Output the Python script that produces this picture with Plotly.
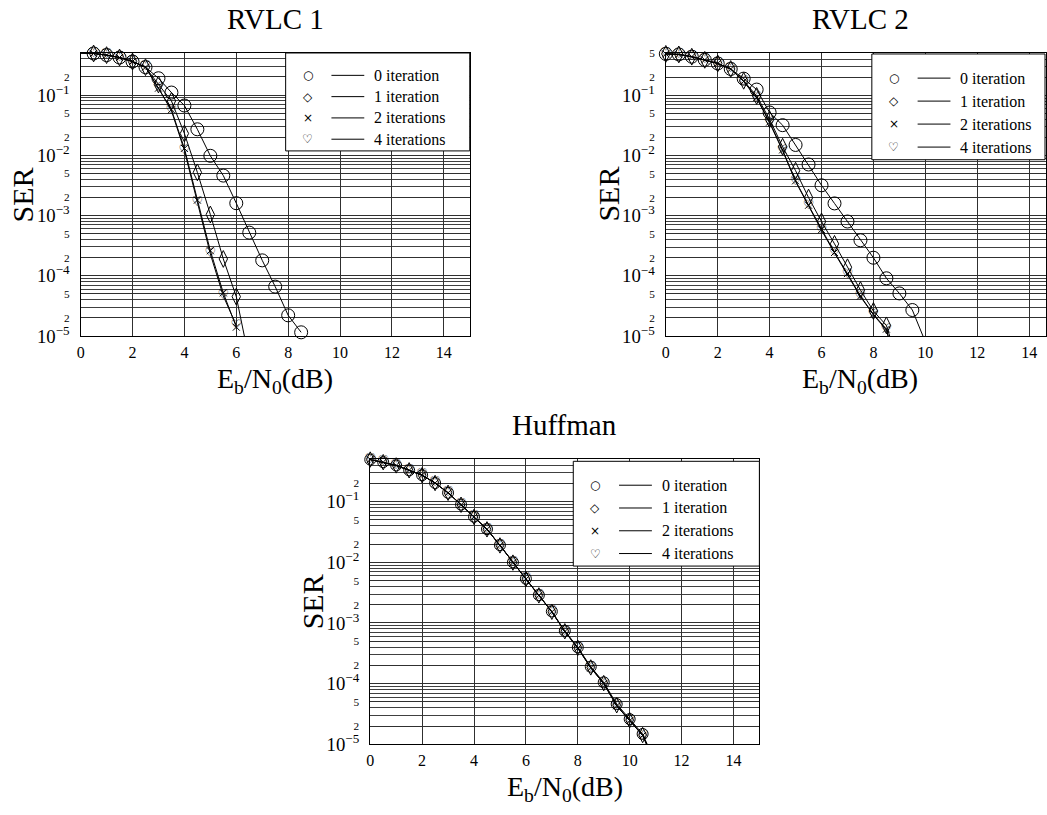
import plotly.graph_objects as go

W, H = 1047, 815
SERIF = "Liberation Serif, Times New Roman, serif"
SYM = "DejaVu Sans"

# ---------------- data ----------------
# Eb/N0 grid (dB)
snr_rv1_0 = [0.0, 0.5, 1.0, 1.5, 2.0, 2.5, 3.0, 3.5, 4.0, 4.5, 5.0, 5.5, 6.0, 6.5, 7.0, 7.5, 8.0, 8.5]
ser_rv1_0 = [0.50, 0.49, 0.46, 0.42, 0.36, 0.29, 0.19, 0.11, 0.067, 0.027, 9.8e-3, 4.6e-3,
             1.6e-3, 5.2e-4, 1.8e-4, 6.6e-5, 2.2e-5, 1.15e-5]
snr_rv1_1 = [0.0, 0.5, 1.0, 1.5, 2.0, 2.5, 3.0, 3.5, 4.0, 4.5, 5.0, 5.5, 6.0, 6.5]
ser_rv1_1 = [0.50, 0.49, 0.46, 0.42, 0.36, 0.29, 0.15, 0.080, 0.023, 5.2e-3, 1.04e-3, 1.9e-4,
             4.5e-5, 4.0e-6]
snr_rv1_2 = [0.0, 0.5, 1.0, 1.5, 2.0, 2.5, 3.0, 3.5, 4.0, 4.5, 5.0, 5.5, 6.0]
ser_rv1_2 = [0.50, 0.49, 0.46, 0.42, 0.36, 0.29, 0.13, 0.057, 0.013, 1.8e-3, 2.6e-4, 5.2e-5, 1.4e-5]
snr_rv1_4 = [0.0, 0.5, 1.0, 1.5, 2.0, 2.5, 3.0, 3.5, 4.0, 4.5, 5.0, 5.5, 6.0]
ser_rv1_4 = [0.50, 0.49, 0.46, 0.42, 0.36, 0.29, 0.13, 0.055, 0.012, 1.6e-3, 2.3e-4, 4.6e-5, 1.5e-5]

snr_rv2_0 = [0.0, 0.5, 1.0, 1.5, 2.0, 2.5, 3.0, 3.5, 4.0, 4.5, 5.0, 5.5, 6.0, 6.5, 7.0, 7.5,
             8.0, 8.5, 9.0, 9.5, 10.0]
ser_rv2_0 = [0.49, 0.48, 0.44, 0.39, 0.34, 0.275, 0.19, 0.125, 0.052, 0.032, 0.015, 7.1e-3,
             3.2e-3, 1.6e-3, 8.0e-4, 3.9e-4, 2.0e-4, 9.1e-5, 5.1e-5, 2.7e-5, 8.0e-6]
snr_rv2_1 = [0.0, 0.5, 1.0, 1.5, 2.0, 2.5, 3.0, 3.5, 4.0, 4.5, 5.0, 5.5, 6.0, 6.5, 7.0, 7.5,
             8.0, 8.5, 9.0]
ser_rv2_1 = [0.49, 0.48, 0.44, 0.39, 0.34, 0.275, 0.175, 0.098, 0.040, 0.014, 5.6e-3, 2.0e-3,
             8.0e-4, 3.4e-4, 1.39e-4, 5.8e-5, 2.6e-5, 1.5e-5, 3.0e-6]
snr_rv2_2 = [0.0, 0.5, 1.0, 1.5, 2.0, 2.5, 3.0, 3.5, 4.0, 4.5, 5.0, 5.5, 6.0, 6.5, 7.0, 7.5,
             8.0, 8.5, 9.0]
ser_rv2_2 = [0.49, 0.48, 0.44, 0.39, 0.34, 0.275, 0.171, 0.092, 0.036, 0.0124, 3.8e-3, 1.49e-3,
             5.85e-4, 2.44e-4, 1.09e-4, 4.6e-5, 2.3e-5, 1.3e-5, 2.0e-6]
snr_rv2_4 = [0.0, 0.5, 1.0, 1.5, 2.0, 2.5, 3.0, 3.5, 4.0, 4.5, 5.0, 5.5, 6.0, 6.5, 7.0, 7.5,
             8.0, 8.5, 9.0]
ser_rv2_4 = [0.49, 0.48, 0.44, 0.39, 0.34, 0.275, 0.170, 0.090, 0.035, 0.0120, 3.7e-3, 1.45e-3,
             5.7e-4, 2.4e-4, 1.06e-4, 4.5e-5, 2.25e-5, 1.25e-5, 2.0e-6]

snr_hf = [0.0, 0.5, 1.0, 1.5, 2.0, 2.5, 3.0, 3.5, 4.0, 4.5, 5.0, 5.5, 6.0, 6.5, 7.0, 7.5,
          8.0, 8.5, 9.0, 9.5, 10.0, 10.5, 11.0]
ser_hf_0 = [0.495, 0.448, 0.396, 0.329, 0.273, 0.203, 0.140, 0.0895, 0.0564, 0.0353, 0.0192,
            0.0100, 5.36e-3, 2.88e-3, 1.55e-3, 7.4e-4, 3.96e-4, 1.9e-4, 1.05e-4, 4.6e-5, 2.6e-5,
            1.48e-5, 4.9e-6]
ser_hf_1 = [0.495, 0.448, 0.396, 0.329, 0.273, 0.203, 0.140, 0.0890, 0.0560, 0.0350, 0.0190,
            0.0099, 5.3e-3, 2.85e-3, 1.53e-3, 7.3e-4, 3.9e-4, 1.85e-4, 1.02e-4, 4.4e-5, 2.5e-5,
            1.42e-5, 4.7e-6]
ser_hf_2 = [0.495, 0.448, 0.396, 0.329, 0.273, 0.203, 0.140, 0.0890, 0.0560, 0.0350, 0.0190,
            0.0099, 5.3e-3, 2.85e-3, 1.52e-3, 7.2e-4, 3.85e-4, 1.82e-4, 1.0e-4, 4.3e-5, 2.45e-5,
            1.4e-5, 4.6e-6]
ser_hf_4 = [0.495, 0.448, 0.396, 0.329, 0.273, 0.203, 0.140, 0.0890, 0.0560, 0.0350, 0.0190,
            0.0099, 5.3e-3, 2.85e-3, 1.52e-3, 7.2e-4, 3.85e-4, 1.82e-4, 1.0e-4, 4.3e-5, 2.45e-5,
            1.4e-5, 4.6e-6]

series_names = ["0 iteration", "1 iteration", "2 iterations", "4 iterations"]
legend_marks = ["○", "◇", "×", "♡"]
x_ticks = [0, 2, 4, 6, 8, 10, 12, 14]
SER_FLOOR = 1e-5

# ---------------- layout geometry (pixels) ----------------
panels = [
    dict(title="RVLC 1", box=(77, 48, 468, 337), xmax=15.0, ytop=-0.302,
         data=[(snr_rv1_0, ser_rv1_0), (snr_rv1_1, ser_rv1_1), (snr_rv1_2, ser_rv1_2), (snr_rv1_4, ser_rv1_4)],
         legend=(283, 48, 468, 148), csize=13, dsize=12),
    dict(title="RVLC 2", box=(665, 48, 1047, 337), xmax=14.65, ytop=-0.295,
         data=[(snr_rv2_0, ser_rv2_0), (snr_rv2_1, ser_rv2_1), (snr_rv2_2, ser_rv2_2), (snr_rv2_4, ser_rv2_4)],
         legend=(872, 49, 1046, 157), csize=13, dsize=12),
    dict(title="Huffman", box=(368, 463, 759, 754), xmax=15.0, ytop=-0.302,
         data=[(snr_hf, ser_hf_0), (snr_hf, ser_hf_1), (snr_hf, ser_hf_2), (snr_hf, ser_hf_4)],
         legend=(572, 465, 759, 572), csize=11, dsize=11),
]


def px(x):
    return x / W


def py(y):
    return 1 - y / H


def label(text, x, y, size, family=SERIF, xanchor="center", angle=0):
    return dict(text=text, x=px(x), y=py(y), xref="paper", yref="paper", showarrow=False,
                xanchor=xanchor, yanchor="middle", textangle=angle,
                font=dict(family=family, size=size, color="black"))


fig = go.Figure()
layout = dict(width=W, height=H, margin=dict(l=0, r=0, t=0, b=0),
              paper_bgcolor="white", plot_bgcolor="white", showlegend=False)
shapes, annotations = [], []

for i, p in enumerate(panels):
    n = "" if i == 0 else str(i + 1)
    xa, ya = "x" + n, "y" + n
    x0, y0, x1, y1 = p["box"]
    layout["xaxis" + n] = dict(
        domain=[px(x0), px(x1)], range=[0, p["xmax"]], anchor=ya,
        tickvals=x_ticks, showgrid=True, gridcolor="#303030", gridwidth=1,
        showline=True, linecolor="black", linewidth=1, mirror=True, ticks="",
        zeroline=False, ticklabelstandoff=2,
        tickfont=dict(family=SERIF, size=16, color="black"))
    layout["yaxis" + n] = dict(
        type="log", domain=[py(y1), py(y0)], range=[-5, p["ytop"]], anchor=xa,
        dtick="D2", exponentformat="power", showgrid=True, gridcolor="#303030", gridwidth=1,
        minor=dict(dtick="D1", showgrid=True, gridcolor="#404040", gridwidth=1, ticks=""),
        showline=True, linecolor="black", linewidth=1, mirror=True, ticks="",
        zeroline=False, ticklabelstandoff=7,
        tickfont=dict(family=SERIF, size=15, color="black"))

    styles = [
        dict(symbol="circle-open", size=p["csize"]),
        dict(symbol="diamond-tall-open", size=p["dsize"]),
        dict(symbol="x-thin-open", size=7),
        None,
    ]
    for (xs, ys), st, name in zip(p["data"], styles, series_names):
        shown = [1 if v >= SER_FLOOR * 0.999 else 0 for v in ys]
        common = dict(x=xs, y=ys, xaxis=xa, yaxis=ya, name=name, cliponaxis=False,
                      line=dict(color="black", width=1))
        if st is None:
            fig.add_trace(go.Scatter(
                mode="lines+text", text=["♡" if s else "" for s in shown],
                textposition="middle center",
                textfont=dict(family=SYM, size=13, color="black"), **common))
        else:
            fig.add_trace(go.Scatter(
                mode="lines+markers",
                marker=dict(symbol=st["symbol"], size=st["size"], color="black",
                            opacity=shown, line=dict(color="black", width=1)),
                **common))

    # panel title and axis titles
    cx = x0 + 391 / 2
    annotations.append(label(p["title"], cx, y0 - 35, 29))
    annotations.append(label("E<sub>b</sub>/N<sub>0</sub>(dB)", cx, y1 + 45, 28))
    annotations.append(label("SER", x0 - 58, (y0 + y1) / 2, 30, angle=-90))

    # legend box
    lx0, ly0, lx1, ly1 = p["legend"]
    shapes.append(dict(type="rect", xref="paper", yref="paper", x0=px(lx0), x1=px(lx1),
                       y0=py(ly1), y1=py(ly0), fillcolor="white",
                       line=dict(color="black", width=1), layer="above"))
    row_h = (ly1 - ly0) / 4.6
    for k, (mark, name) in enumerate(zip(legend_marks, series_names)):
        ry = ly0 + row_h * (k + 1.05)
        annotations.append(label(mark, lx0 + 22, ry, 12, family=SYM))
        shapes.append(dict(type="line", xref="paper", yref="paper", x0=px(lx0 + 46),
                           x1=px(lx0 + 79), y0=py(ry), y1=py(ry),
                           line=dict(color="black", width=1), layer="above"))
        annotations.append(label(name, lx0 + 87, ry, 16, xanchor="left"))

layout["shapes"] = shapes
layout["annotations"] = annotations
fig.update_layout(**layout)
fig.write_html("out.html")
